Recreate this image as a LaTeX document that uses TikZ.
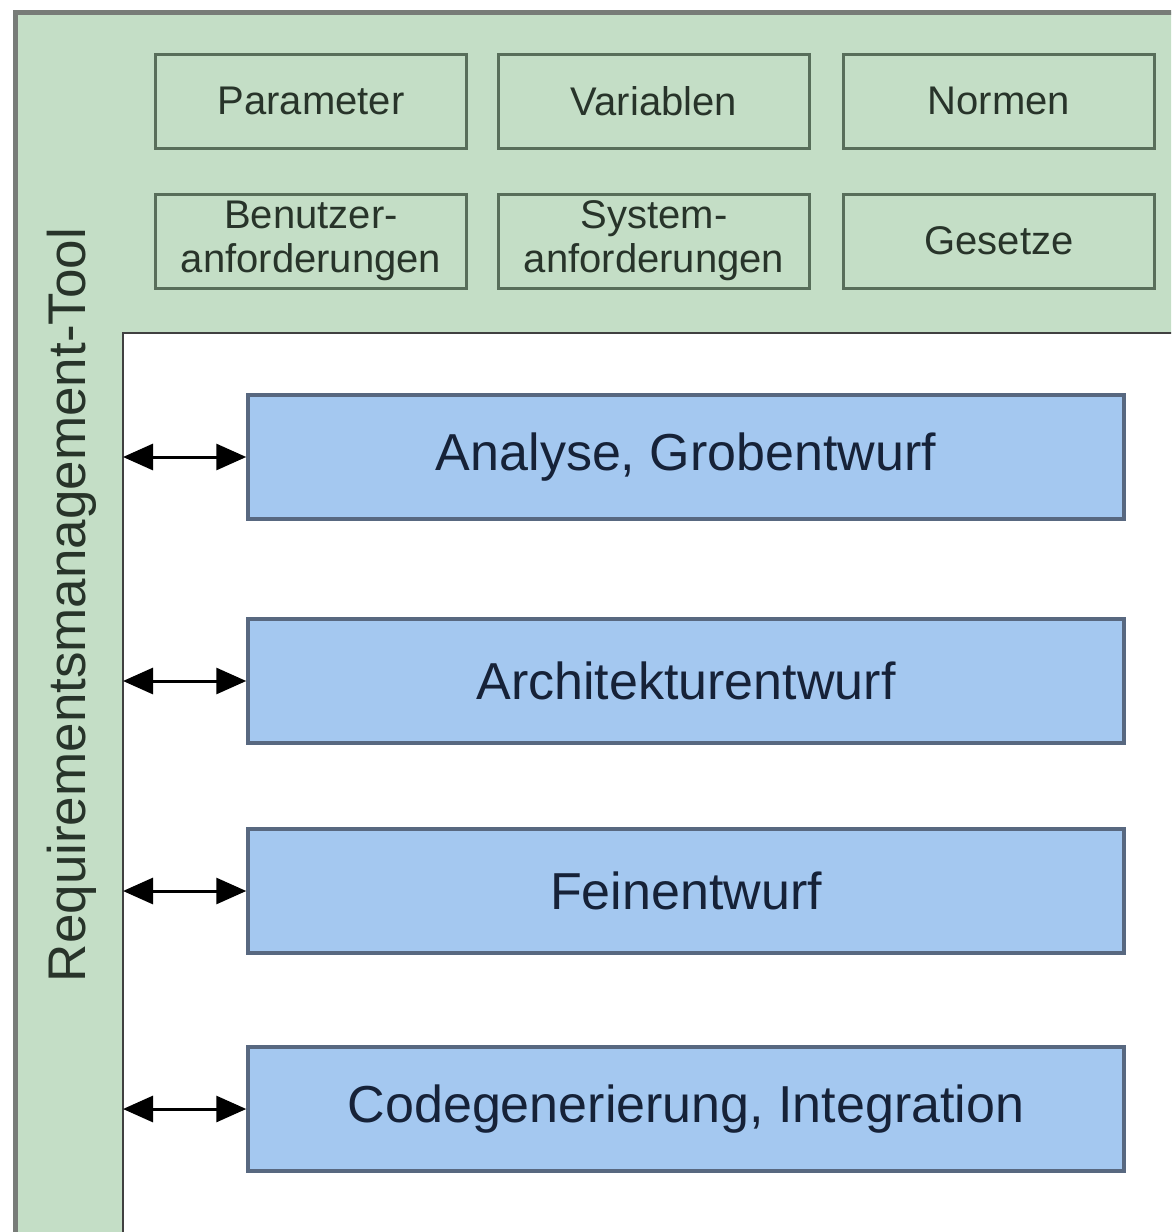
\documentclass[tikz,border=0pt]{standalone}
\usepackage{fontspec}
\setmainfont{Liberation Sans}
\usetikzlibrary{arrows.meta}
\definecolor{bandgreen}{RGB}{196,222,198}
\definecolor{boxline}{RGB}{88,110,90}
\definecolor{boxtext}{RGB}{40,52,42}
\definecolor{bluefill}{RGB}{164,200,240}
\definecolor{blueline}{RGB}{88,104,128}
\definecolor{bluetext}{RGB}{22,34,56}
\definecolor{outerline}{RGB}{120,124,120}
\tikzset{
  x=1pt, y=-1pt,
  greenbox/.style={draw=boxline, line width=3pt, fill=bandgreen, minimum width=311pt, minimum height=94pt,
    inner sep=0pt, text=boxtext, font=\fontsize{40}{44}\selectfont, align=center},
  phasebox/.style={draw=blueline, line width=3.5pt, fill=bluefill, minimum width=876pt, minimum height=124pt,
    inner sep=0pt, text=bluetext, font=\fontsize{52}{60}\selectfont},
  link/.style={line width=3pt, {Triangle[length=30pt,width=26pt]}-{Triangle[length=30pt,width=26pt]}}
}
\begin{document}
\begin{tikzpicture}
\useasboundingbox (0,0) rectangle (1171,1232);
\clip (0,0) rectangle (1171,1232);
\fill[white] (0,0) rectangle (1171,1232);
% L-shaped tool frame
\fill[bandgreen] (15,12) -- (1180,12) -- (1180,333) -- (123,333) -- (123,1240) -- (15,1240) -- cycle;
\draw[outerline, line width=5pt] (15,1240) -- (15,12) -- (1180,12);
\draw[black!75, line width=2.5pt] (1180,333) -- (123,333) -- (123,1240);
\coordinate (edge) at (123,0);
% vertical label
\node[rotate=90, text=boxtext, font=\fontsize{53}{60}\selectfont] (tool) at (72,605) {Requirementsmanagement-Tool};
% top boxes
\node[greenbox] (param) at (311,101) {Parameter};
\node[greenbox] (var) at (654,101) {Variablen};
\node[greenbox] (norm) at (999,101) {Normen};
\node[greenbox] (benutzer) at (311,241) {Benutzer-\\anforderungen};
\node[greenbox] (system) at (654,241) {System-\\anforderungen};
\node[greenbox] (gesetz) at (999,241) {Gesetze};
% phase boxes
\node[phasebox] (analyse) at (686,457) {Analyse, Grobentwurf};
\node[phasebox] (arch) at (686,681) {Architekturentwurf};
\node[phasebox] (fein) at (686,891) {Feinentwurf};
\node[phasebox] (code) at (686,1109) {Codegenerierung, Integration};
% links
\foreach \b in {analyse,arch,fein,code}
  \draw[link] (edge |- \b.west) -- (\b.west);
\end{tikzpicture}
\end{document}
